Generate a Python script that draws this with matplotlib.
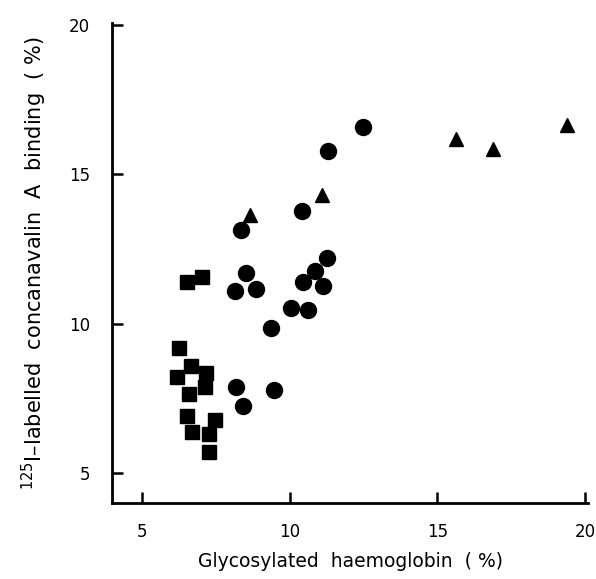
import numpy as np
import matplotlib
matplotlib.use('Agg')
import matplotlib.pyplot as plt

# squares
sq_x = [6.53, 7.05, 6.27, 6.68, 7.16, 6.21, 7.15, 6.61, 6.52, 7.49, 6.69, 7.29, 7.27]
sq_y = [11.39, 11.56, 9.19, 8.59, 8.35, 8.21, 7.89, 7.66, 6.93, 6.77, 6.37, 6.30, 5.71]

# circles
ci_x = [12.49, 11.29, 10.41, 8.37, 8.54, 8.16, 8.86, 11.28, 10.86, 10.44, 11.12,
        10.04, 10.64, 9.38, 8.19, 9.48, 8.43]
ci_y = [16.57, 15.79, 13.77, 13.12, 11.71, 11.09, 11.16, 12.20, 11.77, 11.41, 11.27,
        10.54, 10.46, 9.85, 7.89, 7.78, 7.24]

# triangles
tr_x = [8.68, 11.11, 15.64, 16.88, 19.38]
tr_y = [13.62, 14.29, 16.18, 15.83, 16.66]

xticks = [5, 10, 15, 20]
yticks = [5, 10, 15, 20]

plt.rcParams['font.family'] = ['DejaVu Sans']

fig = plt.figure(figsize=(5.96, 5.79), dpi=100)
ax = fig.add_axes([0.188, 0.131, 0.799, 0.829])

ax.plot(sq_x, sq_y, 's', color='black', ms=10, ls='none')
ax.plot(ci_x, ci_y, 'o', color='black', ms=11.5, ls='none')
ax.plot(tr_x, tr_y, '^', color='black', ms=10, ls='none')

ax.set_xlim(4, 20.1)
ax.set_ylim(4, 20.05)
ax.set_xticks(xticks)
ax.set_yticks(yticks)
ax.spines['top'].set_visible(False)
ax.spines['right'].set_visible(False)
ax.spines['left'].set_linewidth(2)
ax.spines['bottom'].set_linewidth(2)
ax.tick_params(direction='in', length=8, width=1.8, labelsize=12)
ax.tick_params(axis='x', pad=14)
ax.tick_params(axis='y', pad=16)

ax.set_xlabel('Glycosylated  haemoglobin  ( %)', fontsize=13.5, labelpad=8)
ax.set_ylabel('$^{125}$I\u2013labelled  concanavalin  A  binding  ( %)',
              fontsize=15, labelpad=14)

fig.savefig('out.png', dpi=100)
